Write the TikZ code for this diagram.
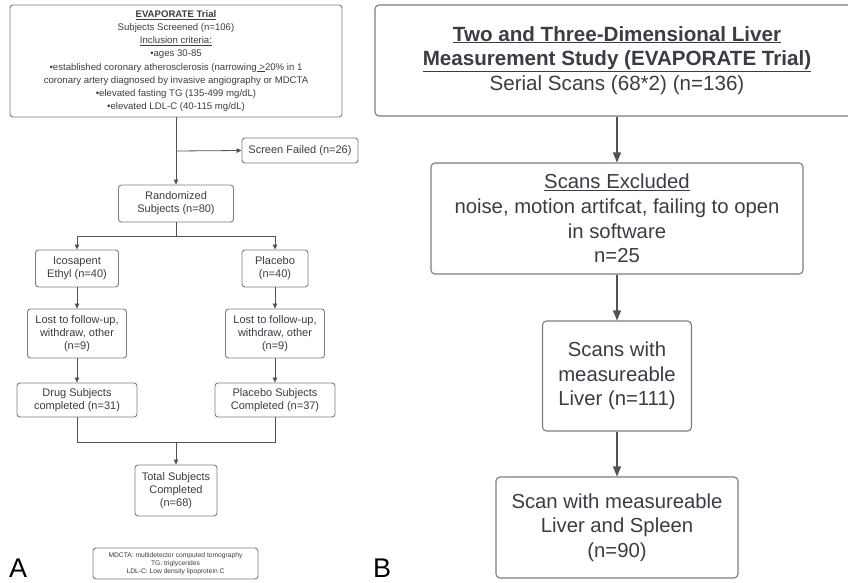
\documentclass[tikz,border=0pt]{standalone}
\usepackage{fontspec}
\setmainfont{Liberation Sans}
\usetikzlibrary{arrows.meta}
\definecolor{txt}{HTML}{3A3D45}
\definecolor{edge}{HTML}{7A7D85}
\definecolor{conn}{HTML}{50535B}
\tikzset{
  boxa/.style={draw=edge, line width=0.9pt, rounded corners=3pt, fill=white, text=txt, align=center, inner sep=0pt, font=\fontsize{11}{13.3}\selectfont},
  boxb/.style={draw=edge, line width=1.1pt, rounded corners=4pt, fill=white, text=txt, align=center, inner sep=0pt, font=\fontsize{20.3}{24.6}\selectfont},
  conna/.style={draw=conn, line width=0.8pt},
  arra/.style={conna, -{Triangle[length=5pt,width=4.5pt]}},
  connb/.style={draw=conn, line width=1.2pt},
  arrb/.style={connb, -{Triangle[length=10pt,width=8pt]}},
  panel/.style={text=black, font=\fontsize{27}{29}\selectfont, inner sep=0pt, anchor=base west}
}
\begin{document}
\begin{tikzpicture}[x=1pt,y=-1pt]
\useasboundingbox (0,0) rectangle (848,583);
\clip (0,0) rectangle (848,583);
\fill[white] (0,0) rectangle (848,583);
% Panel A
\node[boxa, minimum width=332pt, minimum height=112pt, font=\fontsize{9.6}{13.2}\selectfont] (top) at (176,61) {\underline{\textbf{EVAPORATE Trial}}\\Subjects Screened (n=106)\\\underline{Inclusion criteria:}\\•ages 30-85\\•established coronary atherosclerosis (narrowing\underline{ >}20\% in 1\\coronary artery diagnosed by invasive angiography or MDCTA\\•elevated fasting TG (135-499 mg/dL)\\•elevated LDL-C (40-115 mg/dL)};
\node[boxa, minimum width=116pt, minimum height=25pt] (fail) at (300,150.5) {Screen Failed (n=26)};
\node[boxa, minimum width=115pt, minimum height=37pt] (rand) at (176,203.5) {Randomized\\Subjects (n=80)};
\node[boxa, minimum width=83pt, minimum height=37pt] (ico) at (77,268.5) {Icosapent\\Ethyl (n=40)};
\node[boxa, minimum width=66pt, minimum height=37pt] (plac) at (275,268.5) {Placebo\\(n=40)};
\node[boxa, minimum width=99pt, minimum height=49pt] (lostl) at (77,333.5) {Lost to follow-up,\\withdraw, other\\(n=9)};
\node[boxa, minimum width=99pt, minimum height=49pt] (lostr) at (275,333.5) {Lost to follow-up,\\withdraw, other\\(n=9)};
\node[boxa, minimum width=120pt, minimum height=34pt] (drug) at (77,400) {Drug Subjects\\completed (n=31)};
\node[boxa, minimum width=120pt, minimum height=34pt] (placs) at (275,400) {Placebo Subjects\\Completed (n=37)};
\node[boxa, minimum width=82pt, minimum height=51pt] (total) at (176,490.5) {Total Subjects\\Completed\\(n=68)};
\node[boxa, minimum width=165pt, minimum height=31pt, font=\fontsize{6.7}{8.2}\selectfont] (legend) at (175.5,563.5) {MDCTA: multidetector computed tomography\\TG: triglycerides\\LDL-C: Low density lipoprotein C};
\coordinate (j1) at (176,151);
\coordinate (j2) at (176,236);
\coordinate (j3) at (176,442);
\draw[conna] (top.south) -- (j1);
\draw[arra] (j1) -- (fail.west);
\draw[arra] (j1) -- (rand.north);
\draw[conna] (rand.south) -- (j2);
\draw[arra] (j2) -| (ico.north);
\draw[arra] (j2) -| (plac.north);
\draw[arra] (ico.south) -- (lostl.north);
\draw[arra] (plac.south) -- (lostr.north);
\draw[arra] (lostl.south) -- (drug.north);
\draw[arra] (lostr.south) -- (placs.north);
\draw[conna] (drug.south) |- (j3);
\draw[conna] (placs.south) |- (j3);
\draw[arra] (j3) -- (total.north);
\node[panel] (labA) at (9,577) {A};
% Panel B
\node[boxb, minimum width=484pt, minimum height=111pt, font=\fontsize{20.6}{24.8}\selectfont] (btop) at (617,60.5) {\textbf{\underline{Two and Three-Dimensional Liver}}\\\textbf{\underline{Measurement Study (EVAPORATE Trial)}}\\Serial Scans (68*2) (n=136)};
\node[boxb, minimum width=372pt, minimum height=111pt] (excl) at (617,218.5) {\underline{Scans Excluded}\\noise, motion artifcat, failing to open\\in software\\n=25};
\node[boxb, minimum width=149pt, minimum height=110pt] (liver) at (617,376) {Scans with\\measureable\\Liver (n=111)};
\node[boxb, minimum width=242pt, minimum height=101pt] (final) at (617,527.5) {Scan with measureable\\Liver and Spleen\\(n=90)};
\draw[arrb] (btop.south) -- (excl.north);
\draw[arrb] (excl.south) -- (liver.north);
\draw[arrb] (liver.south) -- (final.north);
\node[panel] (labB) at (373,577) {B};
\end{tikzpicture}
\end{document}
